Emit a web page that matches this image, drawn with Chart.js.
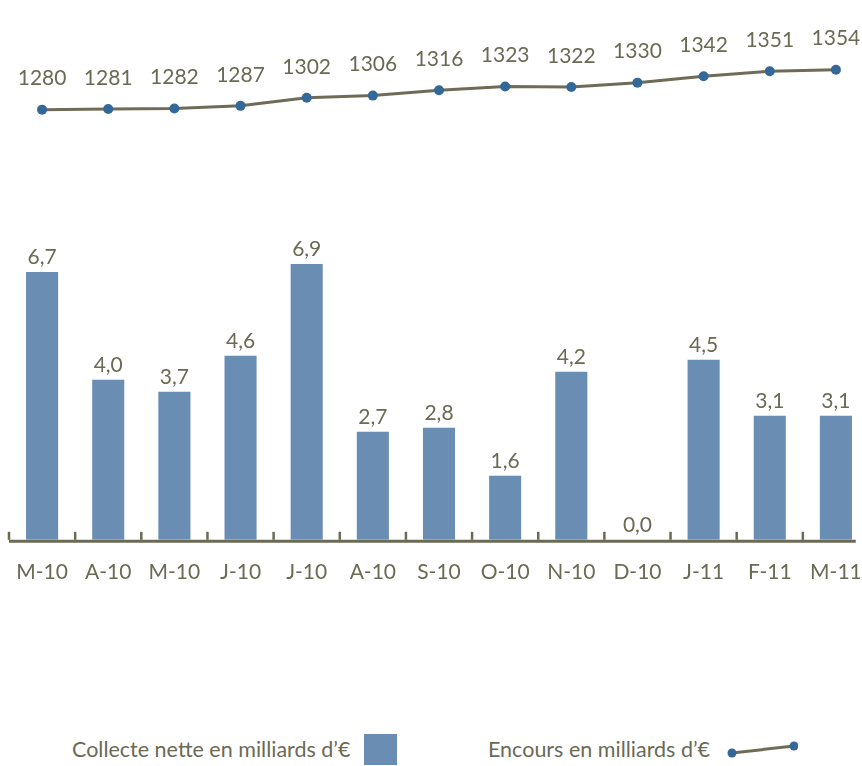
<!DOCTYPE html>
<html lang="fr">
<head>
<meta charset="utf-8">
<title>Collecte nette et encours</title>
<script src="https://cdn.jsdelivr.net/npm/chart.js@4.4.1/dist/chart.umd.min.js"></script>
<style>
  html, body { margin: 0; padding: 0; background: #fff; overflow: hidden; }
  #wrap { position: absolute; top: 0; left: 0; width: 881px; height: 605px; }
  #legende {
    position: absolute; top: 733px; left: 0; width: 862px;
    font-family: Lato, "Open Sans", sans-serif; font-size: 21.5px; color: #6b6a55;
  }
  .item { position: absolute; top: 0; height: 32px; display: flex; align-items: center; white-space: nowrap; }
  .carre { display: inline-block; width: 33px; height: 31px; background: #6a8db4; margin-left: 14px; }
</style>
</head>
<body>
<div id="wrap"><canvas id="graphique" width="881" height="605"></canvas></div>
<div id="legende">
  <div class="item" style="left:72px">Collecte nette en milliards d’€<span class="carre"></span></div>
  <div class="item" style="left:488px">Encours en milliards d’€
    <svg width="76" height="24" style="margin-left:12px">
      <line x1="10" y1="16" x2="72" y2="9" stroke="#6e6c59" stroke-width="3"/>
      <circle cx="10" cy="16" r="4.5" fill="#336899"/>
      <circle cx="72" cy="9" r="4.5" fill="#336899"/>
    </svg>
  </div>
</div>
<script>
// Mois (mars 2010 -> mars 2011)
const mois = ['M-10', 'A-10', 'M-10', 'J-10', 'J-10', 'A-10', 'S-10', 'O-10', 'N-10', 'D-10', 'J-11', 'F-11', 'M-11'];
// Collecte nette en milliards d'€
const collecte = [6.7, 4.0, 3.7, 4.6, 6.9, 2.7, 2.8, 1.6, 4.2, 0.0, 4.5, 3.1, 3.1];
// Encours en milliards d'€
const encours = [1280, 1281, 1282, 1287, 1302, 1306, 1316, 1323, 1322, 1330, 1342, 1351, 1354];

const TEXTE = '#6b6a55';
const POLICE = 'Lato, "Open Sans", sans-serif';

// étiquettes de valeurs + axe avec petites graduations vers le haut
const etiquettes = {
    id: 'etiquettes',
    afterDatasetsDraw(chart) {
        const ctx = chart.ctx;
        const x = chart.scales.x;
        const area = chart.chartArea;
        const pas = x.width / mois.length;

        ctx.save();
        ctx.strokeStyle = TEXTE;
        ctx.lineWidth = 3;
        ctx.beginPath();
        ctx.moveTo(x.getPixelForValue(0) - pas / 2, area.bottom + 1.5);
        ctx.lineTo(x.getPixelForValue(mois.length - 1) + pas * 0.3, area.bottom + 1.5);
        ctx.stroke();
        ctx.lineWidth = 2.5;
        for (let i = 0; i < mois.length; i++) {
            const px = x.getPixelForValue(i) - pas / 2;
            ctx.beginPath();
            ctx.moveTo(px, area.bottom);
            ctx.lineTo(px, area.bottom - 8);
            ctx.stroke();
        }

        ctx.fillStyle = TEXTE;
        ctx.font = '21px ' + POLICE;
        ctx.textAlign = 'center';
        ctx.textBaseline = 'middle';
        chart.data.datasets.forEach((ds, d) => {
            const meta = chart.getDatasetMeta(d);
            meta.data.forEach((el, i) => {
                if (ds.type === 'bar') {
                    ctx.fillText(collecte[i].toFixed(1).replace('.', ','), el.x, el.y - 15);
                } else {
                    ctx.fillText(String(encours[i]), el.x, el.y - 31);
                }
            });
        });
        ctx.restore();
    }
};

new Chart(document.getElementById('graphique'), {
    data: {
        labels: mois,
        datasets: [
            {
                type: 'line',
                label: 'Encours en milliards d’€',
                data: encours,
                yAxisID: 'y2',
                borderColor: '#6e6c59',
                borderWidth: 3,
                pointRadius: 5,
                pointBackgroundColor: '#336899',
                pointBorderWidth: 0,
                tension: 0,
                order: 0
            },
            {
                type: 'bar',
                label: 'Collecte nette en milliards d’€',
                data: collecte,
                yAxisID: 'y',
                backgroundColor: '#6a8db4',
                categoryPercentage: 1,
                barPercentage: 0.485,
                order: 1
            }
        ]
    },
    plugins: [etiquettes],
    options: {
        responsive: false,
        animation: false,
        layout: { padding: { left: 9, right: 12, top: 40, bottom: 0 } },
        plugins: {
            legend: { display: false },
            tooltip: { enabled: false }
        },
        scales: {
            x: {
                offset: true,
                grid: { display: false, drawTicks: false },
                border: { display: false },
                ticks: { color: TEXTE, padding: 20, font: { family: POLICE, size: 21 }, maxRotation: 0, autoSkip: false },
                afterFit(scale) { scale.paddingLeft = 0; scale.paddingRight = 0; }
            },
            y: { display: false, min: 0, max: 12.5 },
            y2: { display: false, min: 483, max: 1409 }
        }
    }
});
</script>
</body>
</html>
